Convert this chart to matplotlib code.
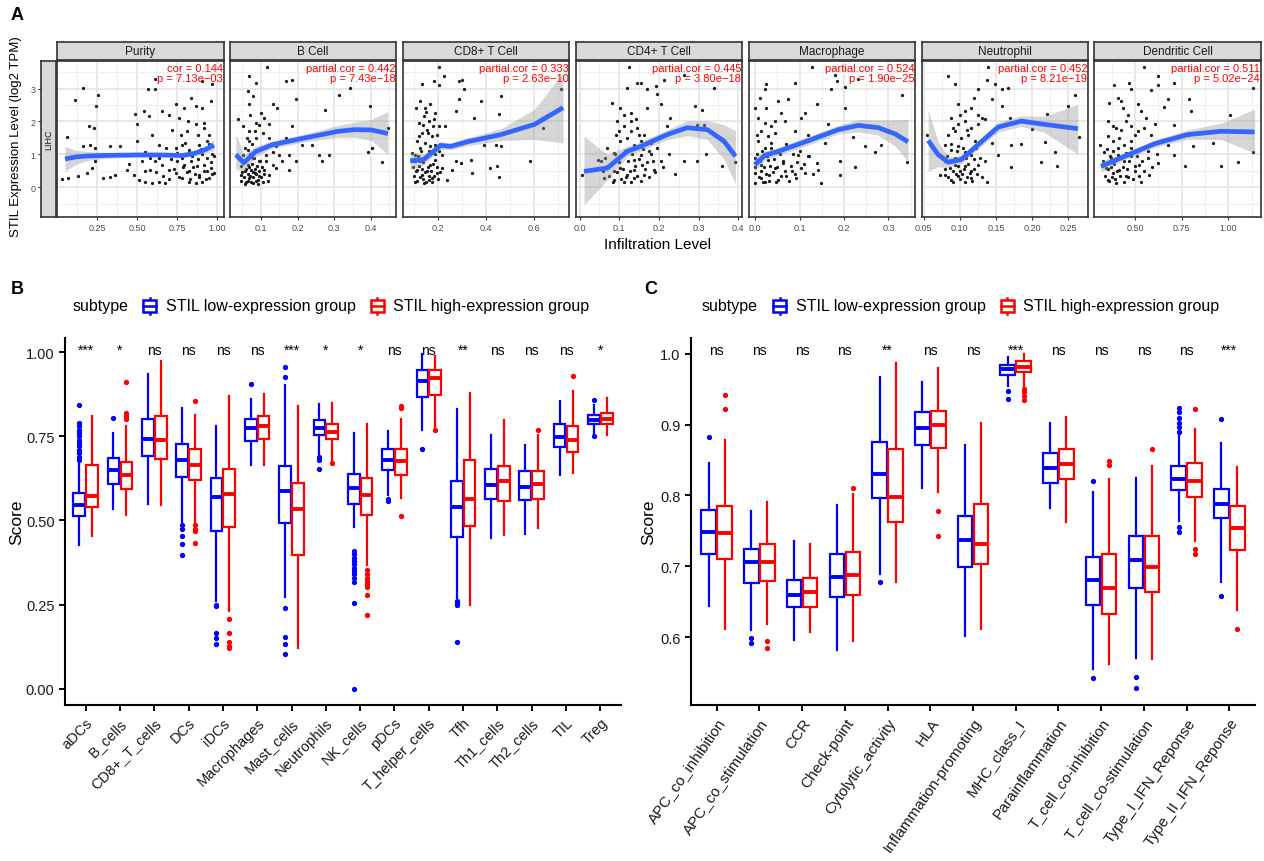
import numpy as np
import matplotlib
matplotlib.use('Agg')
import matplotlib.pyplot as plt
from matplotlib.legend_handler import HandlerBase
from matplotlib.patches import Rectangle, Patch
from matplotlib.lines import Line2D
from matplotlib.ticker import AutoMinorLocator

plt.rcParams['font.family'] = ['Liberation Sans', 'DejaVu Sans']

# ---------------- panel A data ----------------
a_titles = ['Purity', 'B Cell', 'CD8+ T Cell', 'CD4+ T Cell', 'Macrophage', 'Neutrophil', 'Dendritic Cell']
a_cor = ['cor = 0.144', 'partial.cor = 0.442', 'partial.cor = 0.333', 'partial.cor = 0.445',
         'partial.cor = 0.524', 'partial.cor = 0.452', 'partial.cor = 0.511']
a_p = ['p = 7.13e\u221203', 'p = 7.43e\u221218', 'p = 2.63e\u221210', 'p = 3.80e\u221218',
       'p = 1.90e\u221225', 'p = 8.21e\u221219', 'p = 5.02e\u221224']
a_xlim = [(0.0, 1.04), (0.016, 0.469), (0.054, 0.749), (-0.01, 0.41), (-0.015, 0.36), (0.047, 0.277), (0.283, 1.175)]
a_xticks = [[0.25, 0.5, 0.75, 1.0], [0.1, 0.2, 0.3, 0.4], [0.2, 0.4, 0.6], [0.0, 0.1, 0.2, 0.3, 0.4],
            [0.0, 0.1, 0.2, 0.3], [0.05, 0.10, 0.15, 0.20, 0.25], [0.5, 0.75, 1.0]]
a_xlabels = [['0.25', '0.50', '0.75', '1.00'], ['0.1', '0.2', '0.3', '0.4'], ['0.2', '0.4', '0.6'],
             ['0.0', '0.1', '0.2', '0.3', '0.4'], ['0.0', '0.1', '0.2', '0.3'],
             ['0.05', '0.10', '0.15', '0.20', '0.25'], ['0.50', '0.75', '1.00']]

purity_pts = [(0.165, 3.03), (0.113, 2.64), (0.253, 2.79), (0.245, 2.47), (0.061, 1.53), (0.197, 1.85),
              (0.234, 1.80), (0.165, 1.24), (0.207, 1.29), (0.239, 1.19), (0.218, 0.58), (0.186, 0.43),
              (0.134, 0.33), (0.071, 0.28), (0.029, 0.24), (0.239, 0.78), (0.29, 0.28), (0.333, 0.30),
              (0.364, 0.38), (0.396, 1.26), (0.333, 1.26), (0.49, 2.23), (0.542, 2.33), (0.50, 1.91),
              (0.573, 2.16), (0.569, 2.98), (0.611, 2.98), (0.615, 3.28), (0.437, 0.53), (0.479, 0.38),
              (0.51, 0.22), (0.552, 0.17), (0.594, 0.12), (0.636, 0.17), (0.674, 0.12), (0.50, 1.39),
              (0.552, 1.08), (0.615, 0.78), (0.657, 0.68), (0.699, 0.53), (0.741, 0.43), (0.783, 0.28),
              (0.824, 0.17), (0.866, 0.12), (0.908, 0.17), (0.95, 0.28), (0.981, 0.43), (0.741, 2.52),
              (0.793, 2.42), (0.835, 2.72), (0.866, 2.47), (0.908, 2.42), (0.96, 2.62), (0.971, 3.13),
              (0.908, 3.23), (0.657, 2.31), (0.699, 2.21), (0.72, 1.75), (0.772, 1.60), (0.814, 1.70),
              (0.866, 1.91), (0.918, 1.96), (0.95, 1.60), (0.783, 1.29), (0.824, 1.14), (0.887, 1.29),
              (0.939, 1.39), (0.971, 1.0), (0.72, 1.0), (0.751, 0.78), (0.793, 0.68), (0.835, 0.78),
              (0.876, 0.63), (0.918, 0.68), (0.96, 0.58), (0.678, 1.0), (0.636, 1.29), (0.594, 1.60),
              (0.532, 0.78), (0.584, 0.53), (0.824, 0.48), (0.887, 0.38), (0.939, 0.48), (0.741, 1.19),
              (0.845, 0.94), (0.908, 1.0)]
purity_dense = [(0.62, 0.45), (0.64, 0.9), (0.66, 0.35), (0.68, 1.2), (0.70, 0.25), (0.71, 0.85), (0.73, 0.55),
                (0.75, 1.05), (0.76, 0.3), (0.78, 0.9), (0.79, 0.6), (0.80, 1.35), (0.81, 0.45), (0.83, 0.25),
                (0.84, 1.0), (0.85, 0.6), (0.86, 0.4), (0.88, 0.85), (0.89, 0.3), (0.90, 1.15), (0.92, 0.5),
                (0.93, 0.25), (0.94, 0.9), (0.95, 1.3), (0.96, 0.75), (0.97, 0.4), (0.98, 0.95), (0.55, 0.5),
                (0.58, 0.9), (0.45, 0.7), (0.40, 1.0), (0.88, 1.6), (0.92, 1.8), (0.82, 2.0), (0.76, 2.1)]
bcell_pts = [(0.118, 3.66), (0.069, 3.38), (0.087, 3.18), (0.065, 2.92), (0.078, 2.77), (0.168, 3.23),
             (0.186, 3.25), (0.195, 2.67), (0.069, 2.52), (0.10, 2.26), (0.132, 2.52), (0.145, 2.42),
             (0.186, 1.85), (0.037, 2.06), (0.051, 1.85), (0.069, 1.70), (0.087, 1.96), (0.109, 2.11),
             (0.123, 1.91), (0.069, 1.39), (0.087, 1.50), (0.105, 1.65), (0.123, 1.50), (0.141, 1.24),
             (0.051, 0.99), (0.065, 0.68), (0.078, 0.89), (0.096, 0.78), (0.114, 0.99), (0.132, 0.68),
             (0.056, 0.48), (0.069, 0.27), (0.083, 0.43), (0.096, 0.33), (0.109, 0.53), (0.060, 0.17),
             (0.078, 0.12), (0.092, 0.22), (0.047, 0.63), (0.105, 0.17), (0.123, 0.38), (0.141, 0.58),
             (0.159, 0.78), (0.177, 0.99), (0.195, 0.78), (0.213, 1.29), (0.24, 1.29), (0.276, 2.36),
             (0.285, 0.99), (0.258, 0.99), (0.267, 0.78), (0.312, 2.81), (0.343, 3.01), (0.397, 2.47),
             (0.393, 1.08), (0.402, 1.19), (0.429, 0.76), (0.447, 1.80), (0.168, 1.50), (0.087, 1.14),
             (0.065, 1.14), (0.132, 1.08), (0.177, 0.53), (0.150, 0.99), (0.047, 0.38), (0.074, 0.53)]
bcell_dense = [(0.045, 0.2), (0.05, 0.45), (0.052, 0.75), (0.055, 0.3), (0.058, 0.1), (0.06, 0.55), (0.062, 0.85),
               (0.064, 0.4), (0.066, 0.2), (0.068, 0.6), (0.07, 1.0), (0.072, 0.35), (0.074, 0.15), (0.076, 0.7),
               (0.078, 0.45), (0.08, 0.3), (0.082, 0.9), (0.084, 0.55), (0.086, 0.2), (0.088, 0.4), (0.09, 0.65),
               (0.092, 0.1), (0.095, 0.5), (0.098, 0.8), (0.1, 0.3), (0.104, 0.6), (0.11, 0.4), (0.115, 0.8),
               (0.12, 0.2), (0.058, 1.2), (0.062, 1.5), (0.075, 1.3), (0.085, 1.7), (0.095, 1.9), (0.07, 2.2)]
cd8_pts = [(0.204, 3.66), (0.225, 3.38), (0.183, 3.23), (0.204, 3.11), (0.134, 3.13), (0.288, 3.23),
           (0.302, 3.25), (0.309, 2.98), (0.288, 2.67), (0.379, 2.62), (0.463, 2.77), (0.274, 2.33),
           (0.351, 2.11), (0.456, 2.23), (0.639, 1.80), (0.716, 2.98), (0.127, 2.62), (0.148, 2.42),
           (0.169, 2.52), (0.19, 2.26), (0.141, 2.16), (0.162, 2.01), (0.183, 2.06), (0.204, 1.85),
           (0.12, 1.96), (0.134, 1.65), (0.155, 1.75), (0.176, 1.55), (0.197, 1.60), (0.232, 1.85),
           (0.113, 1.39), (0.127, 1.19), (0.148, 1.34), (0.169, 1.24), (0.19, 1.29), (0.106, 0.99),
           (0.127, 0.78), (0.148, 0.89), (0.169, 0.68), (0.19, 0.84), (0.113, 0.53), (0.134, 0.38),
           (0.155, 0.48), (0.176, 0.28), (0.197, 0.43), (0.106, 0.17), (0.141, 0.12), (0.162, 0.22),
           (0.218, 0.58), (0.239, 0.22), (0.26, 0.53), (0.274, 0.78), (0.295, 0.73), (0.337, 0.84),
           (0.344, 0.43), (0.393, 1.29), (0.42, 0.58), (0.449, 0.63), (0.456, 0.32), (0.442, 1.27),
           (0.463, 1.24), (0.583, 0.78), (0.092, 1.04), (0.218, 0.99)]
cd8_dense = [(0.095, 0.6), (0.1, 0.35), (0.105, 0.8), (0.11, 0.5), (0.115, 0.2), (0.118, 0.95), (0.12, 0.65),
             (0.125, 0.3), (0.13, 1.1), (0.133, 0.55), (0.137, 0.25), (0.14, 0.75), (0.145, 0.45), (0.15, 0.15),
             (0.152, 0.95), (0.158, 0.6), (0.162, 0.35), (0.165, 1.1), (0.17, 0.5), (0.175, 0.15), (0.18, 0.7),
             (0.185, 0.35), (0.19, 1.0), (0.195, 0.6), (0.2, 0.25), (0.205, 1.1), (0.21, 0.45), (0.12, 1.55),
             (0.14, 1.9), (0.16, 1.65), (0.18, 1.85), (0.15, 2.3), (0.11, 2.4)]
cd4_pts = [(0.124, 3.66), (0.145, 3.18), (0.120, 3.02), (0.154, 3.18), (0.171, 2.98), (0.192, 3.08),
           (0.196, 2.83), (0.213, 3.25), (0.263, 3.42), (0.339, 3.02), (0.292, 2.47), (0.309, 2.36),
           (0.297, 1.89), (0.314, 1.89), (0.229, 2.11), (0.221, 1.85), (0.204, 2.52), (0.082, 2.57),
           (0.103, 2.42), (0.112, 2.21), (0.129, 2.26), (0.141, 2.06), (0.095, 2.01), (0.112, 1.85),
           (0.129, 1.70), (0.145, 1.80), (0.162, 1.60), (0.091, 1.60), (0.103, 1.39), (0.12, 1.50),
           (0.137, 1.29), (0.154, 1.39), (0.179, 1.34), (0.07, 1.19), (0.087, 1.04), (0.103, 0.94),
           (0.12, 1.09), (0.137, 0.84), (0.154, 0.99), (0.175, 1.09), (0.053, 0.78), (0.07, 0.63),
           (0.087, 0.48), (0.103, 0.58), (0.12, 0.38), (0.137, 0.53), (0.158, 0.68), (0.061, 0.28),
           (0.087, 0.22), (0.112, 0.17), (0.137, 0.28), (0.162, 0.38), (0.187, 0.53), (0.204, 0.78),
           (0.007, 0.36), (0.045, 0.83), (0.263, 0.80), (0.297, 0.80), (0.318, 1.0), (0.36, 0.63),
           (0.391, 0.76)]
cd4_dense = [(0.06, 0.5), (0.065, 0.9), (0.075, 0.35), (0.08, 0.7), (0.085, 0.15), (0.09, 1.0), (0.095, 0.45),
             (0.1, 0.75), (0.105, 0.25), (0.11, 0.55), (0.115, 1.1), (0.118, 0.3), (0.122, 0.8), (0.127, 0.5),
             (0.13, 0.15), (0.133, 1.0), (0.14, 0.65), (0.145, 0.35), (0.15, 0.85), (0.155, 0.2), (0.16, 1.15),
             (0.165, 0.55), (0.17, 0.75), (0.175, 0.3), (0.18, 1.0), (0.185, 0.8), (0.19, 0.45), (0.195, 1.2),
             (0.21, 0.6), (0.225, 1.0), (0.24, 0.4), (0.1, 1.7), (0.13, 2.0), (0.15, 1.6), (0.17, 2.4)]
mac_pts = [(0.127, 3.66), (0.025, 3.13), (0.021, 2.98), (0.089, 3.18), (0.179, 3.42), (0.183, 3.23),
           (0.17, 2.98), (0.202, 3.06), (0.232, 3.28), (0.33, 2.81), (0.074, 2.67), (0.051, 2.62),
           (0.01, 2.72), (-0.001, 2.42), (0.138, 2.52), (0.202, 2.42), (0.112, 2.26), (0.059, 2.26),
           (0.006, 2.11), (0.021, 1.96), (0.036, 1.85), (0.014, 1.70), (0.029, 1.55), (0.044, 1.65),
           (0.066, 2.01), (0.089, 1.70), (0.104, 2.11), (0.119, 1.60), (0.164, 1.91), (0.006, 1.39),
           (0.021, 1.19), (0.036, 1.34), (0.051, 1.08), (0.074, 1.19), (0.096, 0.99), (0.119, 0.94),
           (-0.001, 0.89), (0.014, 0.68), (0.029, 0.84), (0.044, 0.58), (0.063, 0.73), (0.082, 0.48),
           (0.104, 0.58), (-0.001, 0.43), (0.014, 0.27), (0.032, 0.38), (0.051, 0.22), (0.07, 0.33),
           (0.092, 0.28), (0.112, 0.43), (-0.001, 0.12), (0.021, 0.17), (0.138, 0.73), (0.142, 0.53),
           (0.148, 0.14), (0.157, 1.34), (0.19, 0.80), (0.19, 0.38), (0.225, 0.60), (0.22, 1.52),
           (0.247, 1.24), (0.283, 1.29), (0.27, 1.08), (0.341, 0.76)]
mac_dense = [(0.0, 0.6), (0.003, 1.0), (0.008, 0.3), (0.01, 0.8), (0.012, 0.5), (0.016, 1.1), (0.018, 0.15),
             (0.02, 0.6), (0.024, 0.4), (0.026, 0.95), (0.03, 0.2), (0.033, 0.65), (0.036, 1.2), (0.04, 0.45),
             (0.042, 0.85), (0.046, 0.15), (0.05, 0.6), (0.055, 1.0), (0.058, 0.35), (0.062, 0.8), (0.066, 0.5),
             (0.07, 1.3), (0.075, 0.2), (0.08, 0.65), (0.085, 1.0), (0.09, 0.4), (0.095, 0.75), (0.1, 1.1),
             (0.11, 0.7), (0.12, 0.95), (0.13, 0.4), (0.005, 1.6), (0.025, 2.4), (0.045, 2.0)]
neut_pts = [(0.139, 3.66), (0.084, 3.38), (0.093, 3.13), (0.125, 2.98), (0.137, 3.25), (0.148, 3.13),
            (0.158, 2.98), (0.167, 3.03), (0.259, 2.81), (0.25, 2.47), (0.22, 2.23), (0.144, 2.67),
            (0.158, 2.47), (0.098, 2.52), (0.107, 2.31), (0.116, 2.42), (0.125, 2.21), (0.088, 2.11),
            (0.098, 1.91), (0.107, 2.01), (0.116, 1.80), (0.125, 1.91), (0.135, 2.06), (0.084, 1.60),
            (0.093, 1.70), (0.102, 1.50), (0.111, 1.60), (0.121, 1.39), (0.079, 1.29), (0.088, 1.14),
            (0.098, 1.24), (0.107, 1.08), (0.116, 0.99), (0.079, 0.78), (0.086, 0.58), (0.093, 0.68),
            (0.10, 0.48), (0.107, 0.63), (0.114, 0.43), (0.079, 0.38), (0.088, 0.22), (0.098, 0.33),
            (0.107, 0.17), (0.116, 0.28), (0.072, 0.36), (0.055, 1.60), (0.125, 0.68), (0.135, 0.78),
            (0.137, 0.17), (0.144, 1.34), (0.153, 0.99), (0.171, 1.29), (0.171, 0.60), (0.185, 1.31),
            (0.169, 2.11), (0.218, 1.37), (0.212, 0.76), (0.232, 1.06), (0.234, 0.63), (0.265, 1.52),
            (0.199, 1.78)]
neut_dense = [(0.08, 0.55), (0.082, 0.95), (0.084, 0.3), (0.086, 0.75), (0.088, 1.3), (0.09, 0.5), (0.091, 0.15),
              (0.093, 0.9), (0.095, 0.4), (0.096, 1.1), (0.098, 0.65), (0.1, 0.25), (0.101, 0.85), (0.103, 0.4),
              (0.104, 1.2), (0.106, 0.55), (0.108, 0.9), (0.11, 0.3), (0.111, 0.7), (0.113, 1.1), (0.115, 0.5),
              (0.117, 0.2), (0.119, 0.85), (0.12, 0.55), (0.122, 1.2), (0.124, 0.4), (0.128, 0.9), (0.13, 0.3),
              (0.09, 1.8), (0.1, 2.2), (0.11, 1.75), (0.12, 2.7), (0.13, 2.1)]
dc_pts = [(0.547, 3.66), (0.623, 3.38), (0.623, 3.11), (0.712, 3.18), (0.471, 3.18), (0.387, 3.11),
          (0.479, 2.98), (0.587, 2.95), (1.132, 3.01), (0.363, 2.57), (0.408, 2.72), (0.426, 2.62),
          (0.515, 2.52), (0.676, 2.67), (0.792, 2.67), (0.801, 2.33), (0.658, 2.43), (0.435, 2.42),
          (0.462, 2.21), (0.533, 2.31), (0.56, 2.11), (0.605, 1.91), (0.354, 2.01), (0.381, 1.85),
          (0.426, 1.75), (0.479, 1.85), (0.515, 1.70), (0.551, 1.80), (0.587, 1.60), (0.712, 1.89),
          (1.012, 2.21), (0.315, 1.27), (0.354, 1.55), (0.381, 1.39), (0.417, 1.50), (0.444, 1.29),
          (0.479, 1.39), (0.533, 1.19), (0.605, 1.34), (0.676, 1.29), (0.783, 1.60), (0.81, 1.24),
          (0.917, 1.34), (0.337, 1.08), (0.372, 0.89), (0.408, 0.99), (0.444, 0.78), (0.479, 0.94),
          (0.524, 0.68), (0.569, 0.89), (0.623, 0.73), (0.712, 0.99), (0.766, 0.63), (0.345, 0.58),
          (0.381, 0.43), (0.417, 0.53), (0.453, 0.33), (0.498, 0.48), (0.533, 0.17), (0.578, 0.38),
          (0.354, 0.22), (0.399, 0.12), (0.962, 0.63), (1.052, 0.76), (1.132, 1.06)]
dc_dense = [(0.33, 0.8), (0.34, 0.35), (0.35, 1.15), (0.355, 0.55), (0.36, 0.2), (0.365, 0.95), (0.37, 0.6),
            (0.375, 0.3), (0.38, 1.1), (0.39, 0.7), (0.395, 0.25), (0.4, 0.85), (0.405, 0.5), (0.41, 1.2),
            (0.42, 0.35), (0.43, 0.95), (0.435, 0.6), (0.44, 0.15), (0.45, 1.05), (0.46, 0.55), (0.465, 0.3),
            (0.47, 0.8), (0.48, 1.2), (0.49, 0.25), (0.5, 0.65), (0.51, 0.95), (0.52, 0.35), (0.54, 0.8),
            (0.55, 0.5), (0.57, 1.1), (0.59, 0.6), (0.62, 1.0), (0.4, 1.8), (0.45, 2.0), (0.5, 1.6)]

# loess fit: (x, fit, lower, upper)
purity_fit = [(0.05, 0.86, 0.48, 1.24), (0.12, 0.92, 0.70, 1.12), (0.2, 0.95, 0.82, 1.08), (0.35, 0.97, 0.89, 1.05),
              (0.5, 0.98, 0.91, 1.05), (0.65, 0.98, 0.93, 1.03), (0.78, 0.96, 0.90, 1.02), (0.86, 1.03, 0.96, 1.10),
              (0.93, 1.15, 1.04, 1.26), (0.98, 1.28, 1.10, 1.45)]
bcell_fit = [(0.032, 0.99, 0.55, 1.62), (0.054, 0.74, 0.50, 0.98), (0.086, 1.08, 0.92, 1.25), (0.131, 1.29, 1.18, 1.40),
             (0.221, 1.50, 1.38, 1.62), (0.311, 1.70, 1.52, 1.88), (0.356, 1.75, 1.52, 1.98), (0.401, 1.74, 1.42, 2.06),
             (0.446, 1.63, 1.0, 2.3)]
cd8_fit = [(0.085, 0.80, 0.53, 1.07), (0.141, 0.84, 0.68, 1.00), (0.183, 1.09, 0.96, 1.22), (0.211, 1.27, 1.15, 1.39),
           (0.253, 1.24, 1.14, 1.34), (0.323, 1.38, 1.26, 1.50), (0.464, 1.60, 1.42, 1.78), (0.604, 1.91, 1.45, 2.37),
           (0.723, 2.42, 1.35, 3.49)]
cd4_fit = [(0.011, 0.48, -0.54, 1.55), (0.07, 0.58, 0.22, 0.99), (0.12, 1.09, 0.93, 1.25), (0.154, 1.24, 1.10, 1.38),
           (0.221, 1.60, 1.45, 1.75), (0.271, 1.81, 1.57, 2.02), (0.322, 1.75, 1.45, 2.02), (0.364, 1.40, 0.85, 1.90),
           (0.393, 0.94, 0.1, 1.72)]
mac_fit = [(-0.001, 0.68, 0.48, 0.92), (0.022, 0.97, 0.82, 1.10), (0.052, 1.09, 0.97, 1.20), (0.127, 1.45, 1.32, 1.58),
           (0.187, 1.75, 1.62, 1.88), (0.232, 1.88, 1.68, 2.06), (0.277, 1.81, 1.58, 2.04), (0.315, 1.62, 1.25, 2.05),
           (0.344, 1.38, 0.78, 2.06)]
neut_fit = [(0.0562, 1.42, 0.48, 2.36), (0.07, 0.99, 0.62, 1.38), (0.0838, 0.76, 0.60, 0.92), (0.102, 0.84, 0.72, 0.96),
            (0.125, 1.29, 1.16, 1.42), (0.153, 1.83, 1.68, 1.98), (0.185, 2.01, 1.85, 2.17), (0.217, 1.91, 1.66, 2.16),
            (0.263, 1.78, 1.0, 2.52)]
dc_fit = [(0.318, 0.63, 0.46, 0.80), (0.426, 0.89, 0.78, 1.00), (0.605, 1.32, 1.21, 1.43), (0.783, 1.60, 1.46, 1.74),
          (0.962, 1.70, 1.45, 1.95), (1.141, 1.68, 1.04, 2.37)]

a_points = [purity_pts + purity_dense, bcell_pts + bcell_dense, cd8_pts + cd8_dense, cd4_pts + cd4_dense,
            mac_pts + mac_dense, neut_pts + neut_dense, dc_pts + dc_dense]
a_fits = [purity_fit, bcell_fit, cd8_fit, cd4_fit, mac_fit, neut_fit, dc_fit]

# ---------------- panel B data: (whislo, q1, med, q3, whishi) ----------------
b_cats = ['aDCs', 'B_cells', 'CD8+_T_cells', 'DCs', 'iDCs', 'Macrophages', 'Mast_cells', 'Neutrophils',
          'NK_cells', 'pDCs', 'T_helper_cells', 'Tfh', 'Th1_cells', 'Th2_cells', 'TIL', 'Treg']
b_sig = ['***', '*', 'ns', 'ns', 'ns', 'ns', '***', '*', '*', 'ns', 'ns', '**', 'ns', 'ns', 'ns', '*']
b_low = [(0.426, 0.513, 0.545, 0.583, 0.674), (0.535, 0.609, 0.651, 0.686, 0.760), (0.550, 0.691, 0.743, 0.802, 0.936),
         (0.496, 0.629, 0.681, 0.728, 0.834), (0.26, 0.470, 0.569, 0.627, 0.782), (0.666, 0.737, 0.775, 0.800, 0.860),
         (0.273, 0.492, 0.587, 0.662, 0.901), (0.698, 0.753, 0.774, 0.797, 0.847), (0.481, 0.548, 0.597, 0.637, 0.760),
         (0.575, 0.649, 0.680, 0.711, 0.765), (0.768, 0.867, 0.914, 0.948, 0.993), (0.27, 0.451, 0.541, 0.617, 0.830),
         (0.448, 0.565, 0.606, 0.652, 0.753), (0.461, 0.562, 0.600, 0.646, 0.723), (0.636, 0.718, 0.748, 0.786, 0.855),
         (0.758, 0.787, 0.799, 0.812, 0.842)]
b_low_out = [[0.68, 0.69, 0.70, 0.71, 0.72, 0.73, 0.74, 0.75, 0.76, 0.77, 0.78, 0.79, 0.844], [0.803], [],
             [0.486, 0.475, 0.455, 0.43, 0.397], [0.25, 0.245, 0.165, 0.15, 0.133], [0.904],
             [0.957, 0.925, 0.241, 0.155, 0.133, 0.102], [0.69, 0.68, 0.652],
             [0.41, 0.40, 0.39, 0.38, 0.37, 0.36, 0.35, 0.34, 0.33, 0.317, 0.255, 0.0], [0.565, 0.558], [0.711],
             [0.262, 0.255, 0.25, 0.14], [], [], [], [0.857, 0.751]]
b_high = [(0.454, 0.539, 0.572, 0.666, 0.809), (0.515, 0.594, 0.634, 0.674, 0.780), (0.547, 0.683, 0.738, 0.809, 0.975),
          (0.491, 0.621, 0.666, 0.712, 0.812), (0.23, 0.481, 0.578, 0.652, 0.871), (0.666, 0.741, 0.782, 0.811, 0.875),
          (0.12, 0.397, 0.533, 0.611, 0.840), (0.680, 0.741, 0.763, 0.788, 0.849), (0.367, 0.515, 0.575, 0.627, 0.787),
          (0.567, 0.634, 0.677, 0.713, 0.802), (0.777, 0.874, 0.924, 0.948, 0.988), (0.25, 0.484, 0.565, 0.679, 0.879),
          (0.458, 0.557, 0.617, 0.662, 0.797), (0.478, 0.565, 0.609, 0.647, 0.753), (0.642, 0.703, 0.738, 0.782, 0.886),
          (0.755, 0.786, 0.802, 0.820, 0.864)]
b_high_out = [[], [0.911, 0.82, 0.81, 0.80], [], [0.854, 0.486, 0.475, 0.468, 0.434], [0.208, 0.166, 0.14, 0.128, 0.12],
              [], [], [0.672], [0.352, 0.34, 0.33, 0.32, 0.31, 0.303, 0.278, 0.22], [0.84, 0.834, 0.512], [0.768],
              [], [], [0.768], [0.928], []]

# ---------------- panel C data ----------------
c_cats = ['APC_co_inhibition', 'APC_co_stimulation', 'CCR', 'Check-point', 'Cytolytic_activity', 'HLA',
          'Inflammation-promoting', 'MHC_class_I', 'Parainflammation', 'T_cell_co-inhibition',
          'T_cell_co-stimulation', 'Type_I_IFN_Reponse', 'Type_II_IFN_Reponse']
c_sig = ['ns', 'ns', 'ns', 'ns', '**', 'ns', 'ns', '***', 'ns', 'ns', 'ns', 'ns', '***']
c_low = [(0.644, 0.718, 0.748, 0.780, 0.846), (0.610, 0.677, 0.706, 0.724, 0.778), (0.596, 0.642, 0.659, 0.680, 0.735),
         (0.581, 0.657, 0.685, 0.717, 0.787), (0.689, 0.797, 0.830, 0.876, 0.968), (0.811, 0.872, 0.895, 0.918, 0.961),
         (0.602, 0.699, 0.737, 0.771, 0.872), (0.955, 0.970, 0.978, 0.985, 0.995), (0.783, 0.818, 0.839, 0.860, 0.902),
         (0.555, 0.645, 0.681, 0.713, 0.805), (0.570, 0.669, 0.709, 0.743, 0.825), (0.764, 0.808, 0.824, 0.842, 0.889),
         (0.678, 0.768, 0.788, 0.809, 0.874)]
c_low_out = [[0.882], [0.599, 0.592], [], [], [0.678], [], [], [0.948, 0.937], [], [0.821, 0.542], [0.544, 0.528],
             [0.923, 0.918, 0.91, 0.903, 0.897, 0.89, 0.756, 0.749], [0.908, 0.658]]
c_high = [(0.611, 0.710, 0.747, 0.785, 0.878), (0.618, 0.679, 0.706, 0.732, 0.791), (0.607, 0.642, 0.664, 0.683, 0.731),
          (0.594, 0.659, 0.688, 0.720, 0.802), (0.678, 0.762, 0.798, 0.866, 0.987), (0.805, 0.867, 0.900, 0.920, 0.980),
          (0.612, 0.703, 0.731, 0.788, 0.902), (0.954, 0.974, 0.982, 0.990, 1.000), (0.763, 0.823, 0.845, 0.866, 0.911),
          (0.562, 0.633, 0.670, 0.717, 0.824), (0.569, 0.663, 0.699, 0.743, 0.842), (0.735, 0.798, 0.820, 0.846, 0.894),
          (0.638, 0.723, 0.754, 0.785, 0.840)]
c_high_out = [[0.942, 0.922], [0.594, 0.584], [], [0.810], [], [0.778, 0.743], [], [0.951, 0.946, 0.94, 0.935], [],
              [0.849, 0.843], [0.865], [0.922, 0.725, 0.717], [0.612]]

group_labels = ['STIL low-expression group', 'STIL high-expression group']
BLUE, RED = '#0000FF', '#FF0000'

W, H = 1264, 862
fig = plt.figure(figsize=(W / 100, H / 100), dpi=100)


def fx(px):
    return px / W


def fy(py):
    return 1 - py / H


# ---------------- panel A ----------------
A_YLIM = (-0.91, 3.84)
top, bot = 62, 218
for i in range(7):
    left = 57 + i * 172.9
    ax = fig.add_axes([fx(left), fy(bot), 166.5 / W, (bot - top) / H])
    ax.set_xlim(a_xlim[i])
    ax.set_ylim(A_YLIM)
    ax.set_xticks(a_xticks[i])
    ax.set_xticklabels(a_xlabels[i], fontsize=6.5, color='#4D4D4D')
    ax.set_yticks([0, 1, 2, 3])
    ax.set_yticklabels([])
    ax.xaxis.set_minor_locator(AutoMinorLocator(2))
    ax.yaxis.set_minor_locator(AutoMinorLocator(2))
    ax.tick_params(axis='y', which='both', length=0)
    ax.tick_params(axis='x', which='major', length=2.5, color='#333333', pad=2)
    ax.tick_params(axis='x', which='minor', length=0)
    ax.grid(which='major', color='#E6E6E6', lw=1.3)
    ax.grid(which='minor', color='#F0F0F0', lw=0.8)
    ax.set_axisbelow(True)
    for s in ax.spines.values():
        s.set_color('#333333')
        s.set_linewidth(1.2)
    pts = np.array(a_points[i])
    ax.scatter(pts[:, 0], pts[:, 1], s=5.5, color='#1A1A1A', lw=0, zorder=2)
    fit = np.array(a_fits[i])
    ax.fill_between(fit[:, 0], fit[:, 2], fit[:, 3], color='#999999', alpha=0.4, lw=0, zorder=3)
    ax.plot(fit[:, 0], fit[:, 1], color='#3366FF', lw=3.4, zorder=4, solid_capstyle='butt')
    ax.text(0.995, 0.985, a_cor[i] + '\n' + a_p[i], transform=ax.transAxes, ha='right', va='top',
            color='red', fontsize=8, linespacing=0.95, zorder=5)
    # strip on top
    sx = fig.add_axes([fx(left), fy(61), 166.5 / W, 18 / H])
    sx.set_facecolor('#D9D9D9')
    sx.set_xticks([])
    sx.set_yticks([])
    for s in sx.spines.values():
        s.set_color('#333333')
        s.set_linewidth(1.2)
    sx.text(0.5, 0.5, a_titles[i], ha='center', va='center', fontsize=8.5, color='#1A1A1A', transform=sx.transAxes)

# LIHC strip with the y axis
lx = fig.add_axes([fx(41), fy(bot), 14.5 / W, (bot - top) / H])
lx.set_facecolor('#D9D9D9')
lx.set_ylim(A_YLIM)
lx.set_xticks([])
lx.set_yticks([0, 1, 2, 3])
lx.set_yticklabels(['0', '1', '2', '3'], fontsize=6.5, color='#4D4D4D')
lx.tick_params(axis='y', length=2.5, color='#333333', pad=1.5)
for s in lx.spines.values():
    s.set_color('#333333')
    s.set_linewidth(1.2)
lx.text(0.5, 0.5, 'LIHC', rotation=90, ha='center', va='center', fontsize=6.5, color='#1A1A1A',
        transform=lx.transAxes)

fig.text(fx(16), fy(137), 'STIL Expression Level (log2 TPM)', rotation=90, ha='center', va='center', fontsize=9.5)
fig.text(fx(657), fy(245), 'Infiltration Level', ha='center', va='center', fontsize=11)
fig.text(fx(11), fy(16), 'A', fontsize=13, fontweight='bold', va='center')
fig.text(fx(11), fy(290), 'B', fontsize=13, fontweight='bold', va='center')
fig.text(fx(644), fy(290), 'C', fontsize=13, fontweight='bold', va='center')


# ---------------- legend glyph like ggplot boxplot key ----------------
class BoxKey(HandlerBase):
    def create_artists(self, legend, orig, xd, yd, width, height, fontsize, trans):
        c = orig.get_edgecolor()
        cx = xd + width / 2
        bw = width * 0.75
        y0, y1 = yd - height * 0.05, yd + height * 1.05
        wl = Line2D([cx, cx], [yd - height * 0.3, yd + height * 1.3], color=c, lw=1.8, transform=trans)
        box = Rectangle((cx - bw / 2, y0), bw, y1 - y0, facecolor='white', edgecolor=c, lw=1.8, transform=trans)
        med = Line2D([cx - bw / 2, cx + bw / 2], [yd + height / 2] * 2, color=c, lw=1.8, transform=trans)
        return [wl, box, med]


def draw_boxes(ax, cats, low, low_out, high, high_out):
    pos = np.arange(1, len(cats) + 1)
    for stats, outs, off, col in [(low, low_out, -0.1875, BLUE), (high, high_out, 0.1875, RED)]:
        bstats = [dict(whislo=s[0], q1=s[1], med=s[2], q3=s[3], whishi=s[4], fliers=o) for s, o in zip(stats, outs)]
        ax.bxp(bstats, positions=pos + off, widths=0.34, showcaps=False, patch_artist=True, manage_ticks=False,
               boxprops=dict(facecolor='white', edgecolor=col, linewidth=1.6),
               whiskerprops=dict(color=col, linewidth=1.6),
               medianprops=dict(color=col, linewidth=2.8, solid_capstyle='butt'),
               flierprops=dict(marker='o', markerfacecolor=col, markeredgecolor=col, markersize=2.8,
                               linestyle='none'))
    ax.set_xlim(0.4, len(cats) + 0.6)
    ax.set_xticks(pos)
    for s in ['top', 'right']:
        ax.spines[s].set_visible(False)
    for s in ['left', 'bottom']:
        ax.spines[s].set_linewidth(1.5)
        ax.spines[s].set_color('black')
    ax.tick_params(width=1.4, length=4, color='black', labelsize=10.5, labelcolor='#1A1A1A')
    return pos


def add_legend(x_sub, x_leg):
    fig.text(fx(x_sub), fy(307), 'subtype', ha='left', va='center', fontsize=11.5)
    handles = [Patch(facecolor='white', edgecolor=BLUE), Patch(facecolor='white', edgecolor=RED)]
    fig.legend(handles, group_labels, loc='center left', bbox_to_anchor=(fx(x_leg), fy(307)), ncol=2,
               frameon=False, fontsize=11.5, handlelength=1.1, handleheight=0.6, handletextpad=0.45,
               columnspacing=0.8, borderpad=0, borderaxespad=0, handler_map={Patch: BoxKey()})


# ---------------- panel B ----------------
axb = fig.add_axes([fx(65), fy(706), (621 - 65) / W, (706 - 339) / H])
pos = draw_boxes(axb, b_cats, b_low, b_low_out, b_high, b_high_out)
axb.set_ylim(-0.048, 1.042)
axb.set_yticks([0, 0.25, 0.5, 0.75, 1.0])
axb.set_yticklabels(['0.00', '0.25', '0.50', '0.75', '1.00'])
axb.set_xticklabels(b_cats, rotation=45, ha='right', va='top', rotation_mode='anchor', fontsize=10.5)
for p, s in zip(pos, b_sig):
    axb.text(p, 0.995, s, ha='center', va='baseline', fontsize=10)
fig.text(fx(17), fy(522), 'Score', rotation=90, ha='center', va='center', fontsize=12.5)
add_legend(73, 141)

# ---------------- panel C ----------------
axc = fig.add_axes([fx(691), fy(706), (1255 - 691) / W, (706 - 339) / H])
pos = draw_boxes(axc, c_cats, c_low, c_low_out, c_high, c_high_out)
axc.set_ylim(0.504, 1.0225)
axc.set_yticks([0.6, 0.7, 0.8, 0.9, 1.0])
axc.set_yticklabels(['0.6', '0.7', '0.8', '0.9', '1.0'])
axc.set_xticklabels(c_cats, rotation=55, ha='right', va='top', rotation_mode='anchor', fontsize=11)
for p, s in zip(pos, c_sig):
    axc.text(p, 1.0, s, ha='center', va='baseline', fontsize=10)
fig.text(fx(649), fy(522), 'Score', rotation=90, ha='center', va='center', fontsize=12.5)
add_legend(702, 771)

fig.savefig('out.png', dpi=100, facecolor='white')
